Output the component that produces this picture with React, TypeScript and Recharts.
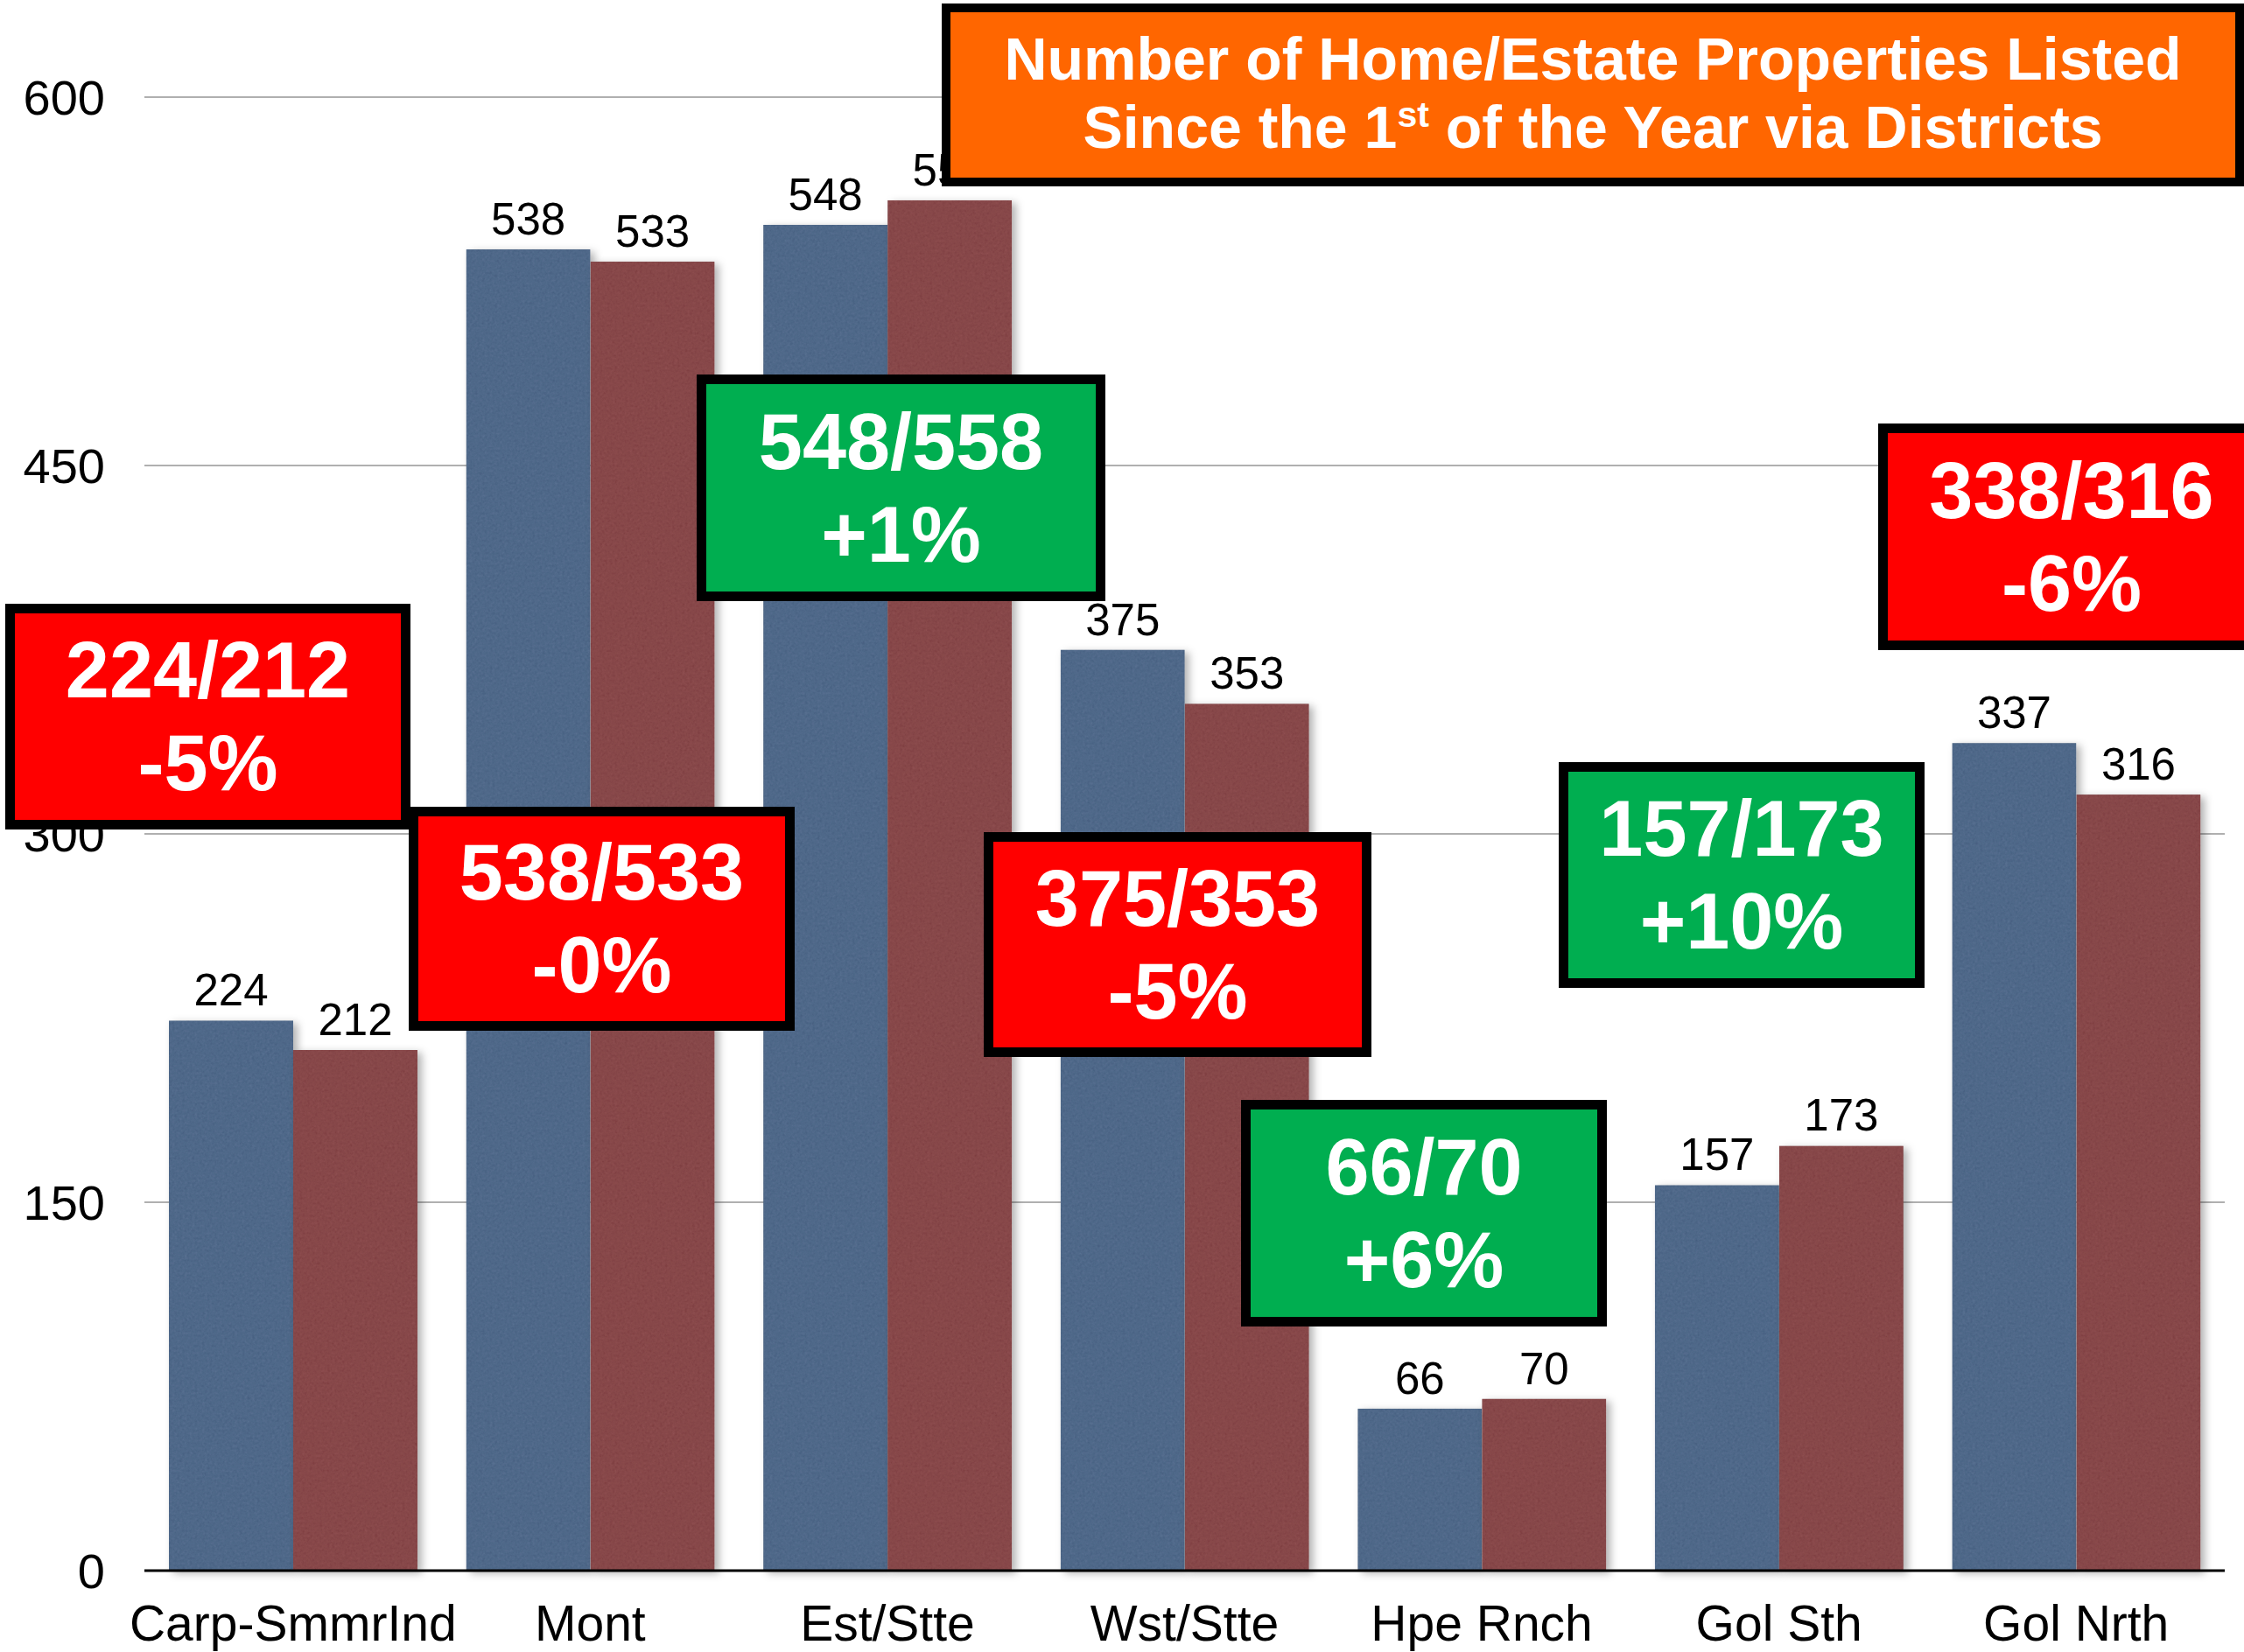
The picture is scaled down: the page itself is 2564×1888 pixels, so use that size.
import React from 'react';
import { BarChart, Bar, XAxis, YAxis, CartesianGrid, LabelList } from 'recharts';

// ---- data ----
const districts = ['Carp-SmmrInd', 'Mont', 'Est/Stte', 'Wst/Stte', 'Hpe Rnch', 'Gol Sth', 'Gol Nrth'];
const previousListings = [224, 538, 548, 375, 66, 157, 337];
const currentListings = [212, 533, 558, 353, 70, 173, 316];
const yTicks = [0, 150, 300, 450, 600];

const boxRatios = ['224/212', '538/533', '548/558', '375/353', '66/70', '157/173', '338/316'];
const boxChanges = ['-5%', '-0%', '+1%', '-5%', '+6%', '+10%', '-6%'];
const boxTrends = ['down', 'down', 'up', 'down', 'up', 'up', 'down'];

const titleLine1 = 'Number of Home/Estate Properties Listed';
const titleLine2Before = 'Since the 1';
const titleLine2Sup = 'st';
const titleLine2After = ' of the Year via Districts';

// ---- layout / style (kept apart from data) ----
const W = 2564;
const H = 1888;
const FONT = '"Liberation Sans", Arial, Helvetica, sans-serif';
const BLUE = '#4f6889';
const RED = '#874749';
const boxLayout = [
  { left: 6, top: 690, width: 463, height: 258 },
  { left: 467, top: 922, width: 441, height: 256 },
  { left: 796, top: 428, width: 467, height: 259 },
  { left: 1124, top: 951, width: 443, height: 257 },
  { left: 1418, top: 1257, width: 418, height: 259 },
  { left: 1781, top: 871, width: 418, height: 258 },
  { left: 2146, top: 484, width: 442, height: 259 },
];
const trendColor: Record<string, string> = { up: '#00ae50', down: '#ff0000' };
const titleLayout = { left: 1076, top: 4, width: 1488, height: 209 };

const chartData = districts.map((d, i) => ({
  name: d,
  prev: previousListings[i],
  curr: currentListings[i],
}));

const ShadowBar = (props: any) => {
  const { x, y, width, height, fill } = props;
  if (width <= 0 || height <= 0) return null;
  return (
    <g filter="url(#barShadow)">
      <rect x={x} y={y} width={width} height={height} fill={fill} filter="url(#barGrain)" />
    </g>
  );
};

export default function App() {
  return (
    <div style={{ position: 'absolute', left: 0, top: 0, width: W, height: H, background: '#fff', overflow: 'hidden' }}>
      <BarChart
        width={W}
        height={H}
        data={chartData}
        margin={{ top: 111, right: 22, bottom: 0, left: 0 }}
        barCategoryGap={28}
        barGap={0}
      >
        <defs>
          <filter id="barShadow" x="-20%" y="-10%" width="150%" height="130%">
            <feDropShadow dx="5" dy="3" stdDeviation="5" floodColor="#000" floodOpacity="0.3" />
          </filter>
          <filter id="barGrain" x="0" y="0" width="100%" height="100%" colorInterpolationFilters="sRGB">
            <feTurbulence type="fractalNoise" baseFrequency="0.35" numOctaves="3" seed="7" result="noise" />
            <feColorMatrix
              in="noise"
              type="matrix"
              values="0.33 0.33 0.33 0 0  0.33 0.33 0.33 0 0  0.33 0.33 0.33 0 0  0 0 0 0 1"
              result="grayNoise"
            />
            <feComposite in="SourceGraphic" in2="grayNoise" operator="arithmetic" k1="0" k2="1" k3="0.12" k4="-0.06" result="grained" />
            <feComposite in="grained" in2="SourceGraphic" operator="in" />
          </filter>
        </defs>
        <CartesianGrid vertical={false} stroke="#b0b0b0" strokeWidth={2} />
        <XAxis
          dataKey="name"
          height={93}
          axisLine={{ stroke: '#000', strokeWidth: 3 }}
          tickLine={false}
          tickSize={0}
          tickMargin={40}
          interval={0}
          tick={{ fontSize: 57, fill: '#000', fontFamily: FONT }}
        />
        <YAxis
          width={165}
          domain={[0, 600]}
          ticks={yTicks}
          axisLine={false}
          tickLine={false}
          tickSize={0}
          tickMargin={45}
          tick={{ fontSize: 56, fill: '#000', fontFamily: FONT }}
        />
        <Bar dataKey="prev" fill={BLUE} shape={ShadowBar} isAnimationActive={false}>
          <LabelList dataKey="prev" position="top" offset={17} fill="#000" fontSize={51} fontFamily={FONT} />
        </Bar>
        <Bar dataKey="curr" fill={RED} shape={ShadowBar} isAnimationActive={false}>
          <LabelList dataKey="curr" position="top" offset={17} fill="#000" fontSize={51} fontFamily={FONT} />
        </Bar>
      </BarChart>

      {boxRatios.map((r, i) => {
        const b = boxLayout[i];
        return (
          <div
            key={r}
            style={{
              position: 'absolute',
              left: b.left,
              top: b.top,
              width: b.width,
              height: b.height,
              boxSizing: 'border-box',
              border: '11px solid #000',
              background: trendColor[boxTrends[i]],
              color: '#fff',
              fontFamily: FONT,
              fontWeight: 'bold',
              fontSize: 90,
              lineHeight: '106px',
              display: 'flex',
              flexDirection: 'column',
              alignItems: 'center',
              justifyContent: 'center',
              textAlign: 'center',
              whiteSpace: 'nowrap',
            }}
          >
            <div>{r}</div>
            <div>{boxChanges[i]}</div>
          </div>
        );
      })}

      <div
        style={{
          position: 'absolute',
          left: titleLayout.left,
          top: titleLayout.top,
          width: titleLayout.width,
          height: titleLayout.height,
          boxSizing: 'border-box',
          border: '10px solid #000',
          background: '#ff6600',
          color: '#fff',
          fontFamily: FONT,
          fontWeight: 'bold',
          fontSize: 68,
          lineHeight: '78px',
          display: 'flex',
          flexDirection: 'column',
          alignItems: 'center',
          justifyContent: 'center',
          textAlign: 'center',
          whiteSpace: 'nowrap',
          paddingBottom: 6,
        }}
      >
        <div style={{ height: 78 }}>{titleLine1}</div>
        <div style={{ height: 78 }}>
          {titleLine2Before}
          <span style={{ fontSize: 41, position: 'relative', top: -24 }}>{titleLine2Sup}</span>
          {titleLine2After}
        </div>
      </div>
    </div>
  );
}
